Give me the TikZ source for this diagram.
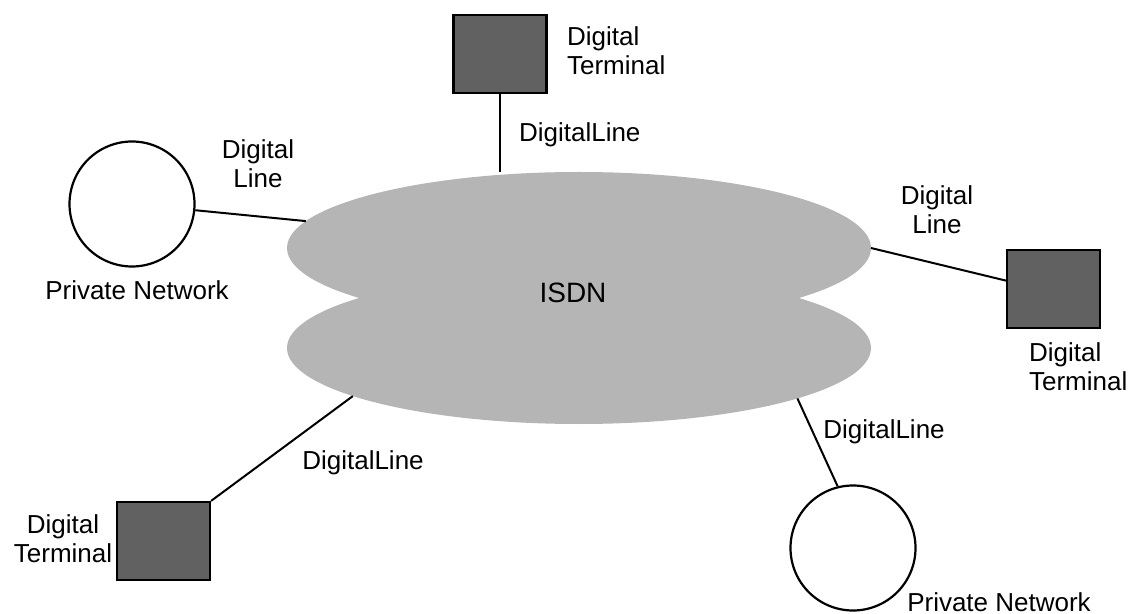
\documentclass[tikz,border=0pt]{standalone}
\usepackage{fontspec}
\setmainfont{Liberation Sans}
\usetikzlibrary{shapes.geometric}

\begin{document}
\begin{tikzpicture}[x=0.5pt,y=-0.5pt,
		every node/.style={font=\fontsize{13}{14.5}\selectfont},
		cloud/.style={ellipse,fill=black!29,inner sep=0pt,outer sep=0pt,
				minimum width=292pt,minimum height=76pt},
		terminal/.style={rectangle,draw=black,line width=1.1pt,fill=black!62,
				minimum width=46.5pt,minimum height=39pt,inner sep=0pt},
		privnet/.style={circle,draw=black,line width=1.1pt,fill=white,
				minimum size=62.5pt,inner sep=0pt},
		wire/.style={line width=1pt}]
\useasboundingbox (0,0) rectangle (1134,614);
\node[cloud] (isdnup) at (579,248) {};
\node[cloud] (isdnlo) at (579,348) {};
\node (isdn) at (573,293) {\fontsize{14}{16}\selectfont ISDN};

\node[terminal] (termtop) at (500,54) {};
\node[terminal] (termright) at (1053.5,289) {};
\node[terminal] (termbl) at (163.5,541) {};
\node[privnet] (pnleft) at (132,204) {};
\node[privnet] (pnbr) at (853,548) {};

% lines into the ISDN cloud
\draw[wire] (termtop.south) -- (termtop.south |- isdnup.north);
\draw[wire] (pnleft) -- (isdnup);
\draw[wire] (isdnup.east) -- (termright.170);
\draw[wire] (termbl.north east) -- (isdnlo.192);
\draw[wire] (isdnlo.-13) -- (pnbr.104);

% labels
\node[anchor=west,align=left] (ttop) at (560,51) {Digital\\Terminal};
\node[anchor=west] (ltop) at (512,135) {DigitalLine};
\node[align=center] (lleft) at (258,164) {Digital\\Line};
\node (pnlefttext) at (137,290) {Private Network};
\node[align=center] (lright) at (937,210) {Digital\\Line};
\node[anchor=west,align=left] (tright) at (1022,367) {Digital\\Terminal};
\node[align=center] (tbl) at (63,539) {Digital\\Terminal};
\node (lbl) at (363,463) {DigitalLine};
\node (lbr) at (884,432) {DigitalLine};
\node (pnbrtext) at (999,602) {Private Network};
\end{tikzpicture}
\end{document}
